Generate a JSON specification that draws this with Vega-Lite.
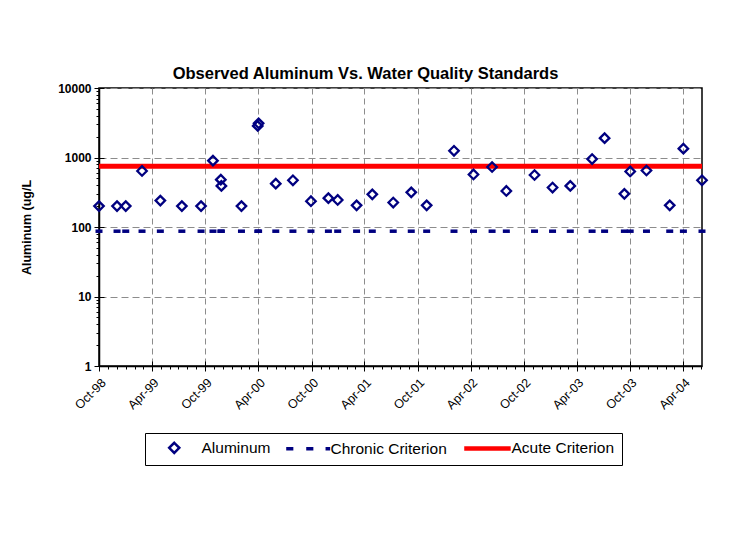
{
  "$schema": "https://vega.github.io/schema/vega-lite/v6.json",
  "autosize": "none",
  "width": 603,
  "height": 278,
  "padding": {"left": 99, "top": 88, "right": 41, "bottom": 175},
  "background": "white",
  "config": {
    "font": "Liberation Sans",
    "view": {"stroke": "black", "strokeWidth": 1.5},
    "axis": {"domainColor": "black", "tickColor": "black", "labelColor": "black", "titleColor": "black", "gridColor": "#8c8c8c", "gridWidth": 1}
  },
  "title": {"text": "Observed Aluminum Vs. Water Quality Standards", "fontSize": 16.5, "fontWeight": "bold", "anchor": "middle", "dx": -35, "offset": 0, "color": "black", "font": "Liberation Sans"},
  "data": {"values": [
    {"date": "1998-10-01", "aluminum": 200, "chronic": 87, "acute": 750},
    {"date": "1998-12-02", "aluminum": 200, "chronic": 87, "acute": 750},
    {"date": "1999-01-01", "aluminum": 200, "chronic": 87, "acute": 750},
    {"date": "1999-02-26", "aluminum": 640, "chronic": 87, "acute": 750},
    {"date": "1999-04-30", "aluminum": 240, "chronic": 87, "acute": 750},
    {"date": "1999-07-13", "aluminum": 200, "chronic": 87, "acute": 750},
    {"date": "1999-09-17", "aluminum": 200, "chronic": 87, "acute": 750},
    {"date": "1999-10-28", "aluminum": 900, "chronic": 87, "acute": 750},
    {"date": "1999-11-24", "aluminum": 480, "chronic": 87, "acute": 750},
    {"date": "1999-11-26", "aluminum": 390, "chronic": 87, "acute": 750},
    {"date": "2000-02-03", "aluminum": 200, "chronic": 87, "acute": 750},
    {"date": "2000-03-30", "aluminum": 2850, "chronic": 87, "acute": 750},
    {"date": "2000-04-02", "aluminum": 3100, "chronic": 87, "acute": 750},
    {"date": "2000-05-31", "aluminum": 420, "chronic": 87, "acute": 750},
    {"date": "2000-07-29", "aluminum": 470, "chronic": 87, "acute": 750},
    {"date": "2000-09-29", "aluminum": 235, "chronic": 87, "acute": 750},
    {"date": "2000-11-28", "aluminum": 260, "chronic": 87, "acute": 750},
    {"date": "2000-12-30", "aluminum": 245, "chronic": 87, "acute": 750},
    {"date": "2001-03-05", "aluminum": 205, "chronic": 87, "acute": 750},
    {"date": "2001-04-28", "aluminum": 295, "chronic": 87, "acute": 750},
    {"date": "2001-07-09", "aluminum": 225, "chronic": 87, "acute": 750},
    {"date": "2001-09-09", "aluminum": 315, "chronic": 87, "acute": 750},
    {"date": "2001-11-01", "aluminum": 205, "chronic": 87, "acute": 750},
    {"date": "2002-02-03", "aluminum": 1250, "chronic": 87, "acute": 750},
    {"date": "2002-04-11", "aluminum": 570, "chronic": 87, "acute": 750},
    {"date": "2002-06-14", "aluminum": 730, "chronic": 87, "acute": 750},
    {"date": "2002-08-02", "aluminum": 330, "chronic": 87, "acute": 750},
    {"date": "2002-11-07", "aluminum": 560, "chronic": 87, "acute": 750},
    {"date": "2003-01-08", "aluminum": 370, "chronic": 87, "acute": 750},
    {"date": "2003-03-10", "aluminum": 390, "chronic": 87, "acute": 750},
    {"date": "2003-05-24", "aluminum": 950, "chronic": 87, "acute": 750},
    {"date": "2003-07-06", "aluminum": 1900, "chronic": 87, "acute": 750},
    {"date": "2003-09-12", "aluminum": 300, "chronic": 87, "acute": 750},
    {"date": "2003-10-02", "aluminum": 630, "chronic": 87, "acute": 750},
    {"date": "2003-11-27", "aluminum": 650, "chronic": 87, "acute": 750},
    {"date": "2004-02-15", "aluminum": 205, "chronic": 87, "acute": 750},
    {"date": "2004-04-02", "aluminum": 1340, "chronic": 87, "acute": 750},
    {"date": "2004-06-05", "aluminum": 470, "chronic": 87, "acute": 750}
  ]},
  "layer": [
    {
      "mark": {"type": "line", "strokeWidth": 5, "clip": false},
      "encoding": {
        "x": {"field": "date", "type": "temporal",
          "scale": {"type": "utc", "domain": [{"year": 1998, "month": 10, "date": 1, "utc": true}, {"year": 2004, "month": 6, "date": 5, "utc": true}]},
          "axis": {"orient": "bottom", "tickCount": {"interval": "month", "step": 1}, "labels": false, "grid": false, "domain": false, "tickSize": 3, "title": null}},
        "y": {"field": "acute", "type": "quantitative",
          "scale": {"type": "log", "domain": [1, 10000]},
          "axis": {"orient": "left", "values": [2,3,4,5,6,7,8,9,20,30,40,50,60,70,80,90,200,300,400,500,600,700,800,900,2000,3000,4000,5000,6000,7000,8000,9000], "labels": false, "grid": false, "domain": false, "tickSize": 3, "title": null}},
        "color": {"datum": "Acute Criterion",
          "scale": {"domain": ["Aluminum", "Chronic Criterion", "Acute Criterion"], "range": ["#000080", "#000080", "#ff0000"]},
          "legend": {
            "orient": "none", "legendX": 46, "legendY": 345, "direction": "horizontal", "title": null,
            "strokeColor": "black", "fillColor": "white", "padding": 7,
            "labelFontSize": 15.5, "labelFont": "Liberation Sans", "labelColor": "black", "labelOffset": 34, "columnPadding": 8,
            "symbolType": "M-1,0H1",
            "encode": {"symbols": {"update": {
              "shape": {"signal": "datum.value === 'Aluminum' ? 'M0.63,-0.22L0.85,0L0.63,0.22L0.41,0Z' : datum.value === 'Chronic Criterion' ? 'M-0.11,0H0.2M0.76,0H1.07M1.6,0H1.8' : 'M-0.24,0H1.78'"},
              "size": {"value": 2116},
              "fill": {"value": "transparent"},
              "stroke": {"signal": "datum.value === 'Acute Criterion' ? '#ff0000' : '#000080'"},
              "strokeWidth": {"signal": "datum.value === 'Acute Criterion' ? 4.5 : datum.value === 'Chronic Criterion' ? 3.5 : 2.5"},
              "opacity": {"value": 1}
            }}}
          }}
      }
    },
    {
      "mark": {"type": "point", "shape": "M-1,0H1", "filled": false, "strokeWidth": 3.5, "size": 49, "opacity": 1},
      "encoding": {
        "x": {"field": "date", "type": "temporal",
          "axis": {"orient": "bottom", "values": [
            {"year": 1998, "month": 10, "date": 1, "utc": true}, {"year": 1999, "month": 4, "date": 1, "utc": true},
            {"year": 1999, "month": 10, "date": 1, "utc": true}, {"year": 2000, "month": 4, "date": 1, "utc": true},
            {"year": 2000, "month": 10, "date": 1, "utc": true}, {"year": 2001, "month": 4, "date": 1, "utc": true},
            {"year": 2001, "month": 10, "date": 1, "utc": true}, {"year": 2002, "month": 4, "date": 1, "utc": true},
            {"year": 2002, "month": 10, "date": 1, "utc": true}, {"year": 2003, "month": 4, "date": 1, "utc": true},
            {"year": 2003, "month": 10, "date": 1, "utc": true}, {"year": 2004, "month": 4, "date": 1, "utc": true}],
            "labels": false, "grid": false, "domain": false, "tickSize": -5, "title": null}},
        "y": {"field": "chronic", "type": "quantitative",
          "axis": {"orient": "left", "values": [1, 10, 100, 1000, 10000], "labels": false, "grid": false, "domain": false, "tickSize": -5, "title": null}},
        "color": {"datum": "Chronic Criterion"}
      }
    },
    {
      "mark": {"type": "point", "shape": "diamond", "filled": false, "strokeWidth": 2.3, "size": 90, "opacity": 1, "clip": false},
      "encoding": {
        "x": {"field": "date", "type": "temporal",
          "axis": {"orient": "bottom", "values": [
            {"year": 1998, "month": 10, "date": 1, "utc": true}, {"year": 1999, "month": 4, "date": 1, "utc": true},
            {"year": 1999, "month": 10, "date": 1, "utc": true}, {"year": 2000, "month": 4, "date": 1, "utc": true},
            {"year": 2000, "month": 10, "date": 1, "utc": true}, {"year": 2001, "month": 4, "date": 1, "utc": true},
            {"year": 2001, "month": 10, "date": 1, "utc": true}, {"year": 2002, "month": 4, "date": 1, "utc": true},
            {"year": 2002, "month": 10, "date": 1, "utc": true}, {"year": 2003, "month": 4, "date": 1, "utc": true},
            {"year": 2003, "month": 10, "date": 1, "utc": true}, {"year": 2004, "month": 4, "date": 1, "utc": true}],
            "format": "%b-%y", "labelAngle": -45, "labelFontSize": 12.5, "labelPadding": 5, "tickSize": 5,
            "grid": true, "gridDash": [6, 4], "domainWidth": 1.5, "title": null}},
        "y": {"field": "aluminum", "type": "quantitative",
          "axis": {"orient": "left", "values": [1, 10, 100, 1000, 10000], "format": "d",
            "title": "Aluminum (ug/L", "titleFontSize": 12.5, "titleFontWeight": "bold", "titleX": -73, "titleY": 139, "titleAngle": -90, "titleAlign": "center", "titleBaseline": "middle",
            "labelFontSize": 12, "labelFontWeight": "bold", "labelPadding": 3, "tickSize": 5,
            "grid": true, "gridDash": [7, 4], "domainWidth": 1.5}},
        "color": {"datum": "Aluminum"}
      }
    }
  ],
  "resolve": {"axis": {"x": "independent", "y": "independent"}, "scale": {"x": "shared", "y": "shared"}}
}
